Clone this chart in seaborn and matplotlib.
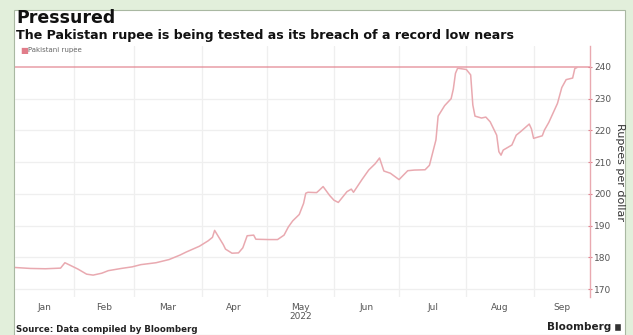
import matplotlib
matplotlib.use("Agg")
import matplotlib.pyplot as plt
from matplotlib.patches import Rectangle
import pandas as pd
import seaborn as sns

# Pakistani rupee per US dollar, 2022
dates = [
    "2022-01-05", "2022-01-12", "2022-01-19", "2022-01-26", "2022-01-28", "2022-01-31",
    "2022-02-03", "2022-02-07", "2022-02-10", "2022-02-14", "2022-02-17", "2022-02-23",
    "2022-02-28", "2022-03-04", "2022-03-11", "2022-03-17", "2022-03-22", "2022-03-25",
    "2022-03-31", "2022-04-04", "2022-04-06", "2022-04-07", "2022-04-11", "2022-04-12",
    "2022-04-15", "2022-04-18", "2022-04-20", "2022-04-22", "2022-04-25", "2022-04-26",
    "2022-05-02", "2022-05-06", "2022-05-09", "2022-05-11", "2022-05-13", "2022-05-16",
    "2022-05-18", "2022-05-19", "2022-05-20", "2022-05-24", "2022-05-25", "2022-05-27",
    "2022-05-30", "2022-06-01", "2022-06-03", "2022-06-07", "2022-06-09", "2022-06-10",
    "2022-06-14", "2022-06-17", "2022-06-20", "2022-06-22", "2022-06-24", "2022-06-27",
    "2022-06-29", "2022-07-01", "2022-07-05", "2022-07-08", "2022-07-13", "2022-07-15",
    "2022-07-18", "2022-07-19", "2022-07-22", "2022-07-25", "2022-07-26", "2022-07-27",
    "2022-07-28", "2022-08-01", "2022-08-03", "2022-08-04", "2022-08-05", "2022-08-08",
    "2022-08-10", "2022-08-12", "2022-08-15", "2022-08-16", "2022-08-17", "2022-08-18",
    "2022-08-22", "2022-08-24", "2022-08-26", "2022-08-30", "2022-08-31", "2022-09-01",
    "2022-09-05", "2022-09-06", "2022-09-08", "2022-09-12", "2022-09-14", "2022-09-16",
    "2022-09-19", "2022-09-20", "2022-09-21",
]
rupee = [
    176.8, 176.5, 176.4, 176.6, 178.3, 177.3,
    176.3, 174.7, 174.4, 175.0, 175.8, 176.5,
    177.0, 177.7, 178.3, 179.3, 180.7, 181.7,
    183.5, 185.2, 186.3, 188.5, 184.0, 182.6,
    181.3, 181.4, 183.0, 186.8, 187.0, 185.7,
    185.6, 185.6, 187.0, 189.6, 191.5, 193.5,
    197.0, 200.2, 200.5, 200.4, 201.0, 202.3,
    199.5, 198.0, 197.3, 200.7, 201.5, 200.5,
    204.6, 207.5, 209.5, 211.3, 207.2, 206.5,
    205.5, 204.5, 207.3, 207.5, 207.6, 209.0,
    217.0, 224.5, 227.8, 230.0, 233.0, 238.0,
    239.6, 239.2, 237.5, 228.0, 224.5, 223.9,
    224.2, 222.7, 218.5, 213.3, 212.2, 213.8,
    215.4, 218.5, 219.6, 222.0, 220.5, 217.5,
    218.3, 220.1, 222.5, 228.5, 233.5, 236.0,
    236.5, 239.5, 239.8,
]
record_low = 240
y_ticks = [170, 180, 190, 200, 210, 220, 230, 240]
month_labels = ["Jan", "Feb", "Mar", "Apr", "May\n2022", "Jun", "Jul", "Aug", "Sep"]

df = pd.DataFrame({"date": pd.to_datetime(dates), "rupee": rupee})

sns.set_theme(style="white")
plt.rcParams["font.family"] = ["DejaVu Sans"]

LINE = "#e9a9b0"
RED = "#e17d8a"
GRID = "#efefef"
TXT = "#555555"

fig = plt.figure(figsize=(6.33, 3.35), dpi=100)
fig.patch.set_facecolor("#e2efdb")
# white card behind the chart
fig.patches.append(Rectangle((14 / 633, 0), (625 - 14) / 633, 1 - 10 / 335,
                             transform=fig.transFigure, facecolor="white",
                             edgecolor="#a9b8a2", linewidth=0.8, zorder=-5))

ax = fig.add_axes([15 / 633, 1 - 297 / 335, (590 - 15) / 633, (297 - 46) / 335])
ax.set_zorder(2)
ax.set_facecolor("none")

sns.lineplot(data=df, x="date", y="rupee", ax=ax, color=LINE, linewidth=1.1,
             estimator=None, legend=False)
ax.axhline(record_low, color=RED, lw=1.1, alpha=0.75, zorder=1)

x0, x1 = pd.Timestamp("2022-01-05"), pd.Timestamp("2022-09-27")
ax.set_xlim(x0, x1)
ax.set_ylim(167.5, 246.6)

# month boundaries as grid lines, labels centred in each visible month
starts = pd.date_range("2022-02-01", "2022-09-01", freq="MS")
ax.set_xticks(starts, minor=True)
edges = [x0] + list(starts) + [x1]
mids = [a + (b - a) / 2 for a, b in zip(edges[:-1], edges[1:])]
ax.set_xticks(mids)
ax.set_xticklabels(month_labels, fontsize=6.5, color=TXT, linespacing=1.0)
ax.tick_params(axis="x", which="both", length=0, pad=4)
ax.grid(False)
ax.grid(True, which="minor", axis="x", color=GRID, lw=0.9)
for v in y_ticks[:-1]:
    ax.axhline(v, color=GRID, lw=0.9, zorder=0)

ax.yaxis.tick_right()
ax.set_yticks(y_ticks)
ax.set_yticklabels([str(v) for v in y_ticks], fontsize=6.5, color=TXT)
ax.tick_params(axis="y", length=3, width=0.8, color=RED, pad=1.5, direction="inout")
ax.yaxis.set_label_position("right")
ax.set_ylabel("Rupees per dollar", rotation=270, fontsize=8, color="#333333", labelpad=10)
ax.set_xlabel("")

for side in ["top", "left", "bottom"]:
    ax.spines[side].set_visible(False)
ax.spines["right"].set_color(LINE)
ax.spines["right"].set_linewidth(1.0)

# legend swatch
ax.text(0.009, 0.983, "■", transform=ax.transAxes, fontsize=6, color=RED, va="center", ha="left")
ax.text(0.022, 0.983, "Pakistani rupee", transform=ax.transAxes, fontsize=5, color="#666666",
        va="center", ha="left")

fig.text(16 / 633, 1 - 18 / 335, "Pressured", fontsize=12.5, fontweight="bold", color="#111111",
         va="center", ha="left")
fig.text(16 / 633, 1 - 35 / 335,
         "The Pakistan rupee is being tested as its breach of a record low nears",
         fontsize=9.1, fontweight="bold", color="#111111", va="center", ha="left")
fig.text(16 / 633, 1 - 329 / 335, "Source: Data compiled by Bloomberg", fontsize=6.2,
         fontweight="bold", color="#222222", va="center", ha="left")
fig.text(611 / 633, 1 - 327 / 335, "Bloomberg", fontsize=7.5, fontweight="bold", color="#222222",
         va="center", ha="right")
fig.patches.append(Rectangle((614 / 633, 1 - 331 / 335), 7 / 633, 8 / 335,
                             transform=fig.transFigure, facecolor="#333333", zorder=3))

fig.savefig("out.png", dpi=100, facecolor=fig.get_facecolor())
